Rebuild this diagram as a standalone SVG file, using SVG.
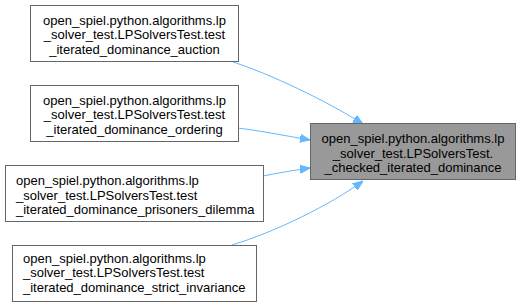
<svg xmlns="http://www.w3.org/2000/svg" width="520" height="306" viewBox="0 0 520 306">
  <style>
    .box { fill: #ffffff; stroke: #666666; stroke-width: 1; }
    .focus { fill: #999999; stroke: #666666; stroke-width: 1; }
    .lbl { font-family: "Liberation Sans", Arial, sans-serif; font-size: 13px; fill: #000000; }
    .edge { fill: none; stroke: #63b8ff; stroke-width: 1; }
  </style>
  <defs>
    <marker id="arrow" viewBox="0 0 10 10" refX="10" refY="5" markerWidth="10" markerHeight="10" markerUnits="userSpaceOnUse" orient="auto">
      <path d="M0,1 L10,5 L0,9 z" fill="#63b8ff" stroke="#63b8ff"/>
    </marker>
  </defs>

  <g id="edges">
    <path class="edge" d="M233,62 C270,74 325,100 363,124" marker-end="url(#arrow)"/>
    <path class="edge" d="M238,128 C262,131 287,136 310,140" marker-end="url(#arrow)"/>
    <path class="edge" d="M263,176 C278,173 295,170 310,168" marker-end="url(#arrow)"/>
    <path class="edge" d="M232,245 C275,232 330,205 363,181" marker-end="url(#arrow)"/>
  </g>

  <g id="node_auction">
    <rect class="box" x="30.5" y="5.5" width="208" height="56"/>
    <text class="lbl" text-anchor="middle" x="134.5" y="24.5">open_spiel.python.algorithms.lp</text>
    <text class="lbl" text-anchor="middle" x="134.5" y="39">_solver_test.LPSolversTest.test</text>
    <text class="lbl" text-anchor="middle" x="134.5" y="53.5">_iterated_dominance_auction</text>
  </g>

  <g id="node_ordering">
    <rect class="box" x="30.5" y="85.5" width="208" height="56"/>
    <text class="lbl" text-anchor="middle" x="134.5" y="104.5">open_spiel.python.algorithms.lp</text>
    <text class="lbl" text-anchor="middle" x="134.5" y="119">_solver_test.LPSolversTest.test</text>
    <text class="lbl" text-anchor="middle" x="134.5" y="133.5">_iterated_dominance_ordering</text>
  </g>

  <g id="node_prisoners">
    <rect class="box" x="5.5" y="165.5" width="258" height="56"/>
    <text class="lbl" x="16" y="185">open_spiel.python.algorithms.lp</text>
    <text class="lbl" x="16" y="199.5">_solver_test.LPSolversTest.test</text>
    <text class="lbl" x="16" y="214">_iterated_dominance_prisoners_dilemma</text>
  </g>

  <g id="node_strict">
    <rect class="box" x="12.5" y="245.5" width="244" height="56"/>
    <text class="lbl" x="23" y="262.5">open_spiel.python.algorithms.lp</text>
    <text class="lbl" x="23" y="277">_solver_test.LPSolversTest.test</text>
    <text class="lbl" x="23" y="291.5">_iterated_dominance_strict_invariance</text>
  </g>

  <g id="node_checked">
    <rect class="focus" x="310.5" y="123.5" width="205" height="56"/>
    <text class="lbl" text-anchor="middle" x="413" y="143">open_spiel.python.algorithms.lp</text>
    <text class="lbl" text-anchor="middle" x="413" y="157.5">_solver_test.LPSolversTest.</text>
    <text class="lbl" text-anchor="middle" x="413" y="172">_checked_iterated_dominance</text>
  </g>
</svg>
